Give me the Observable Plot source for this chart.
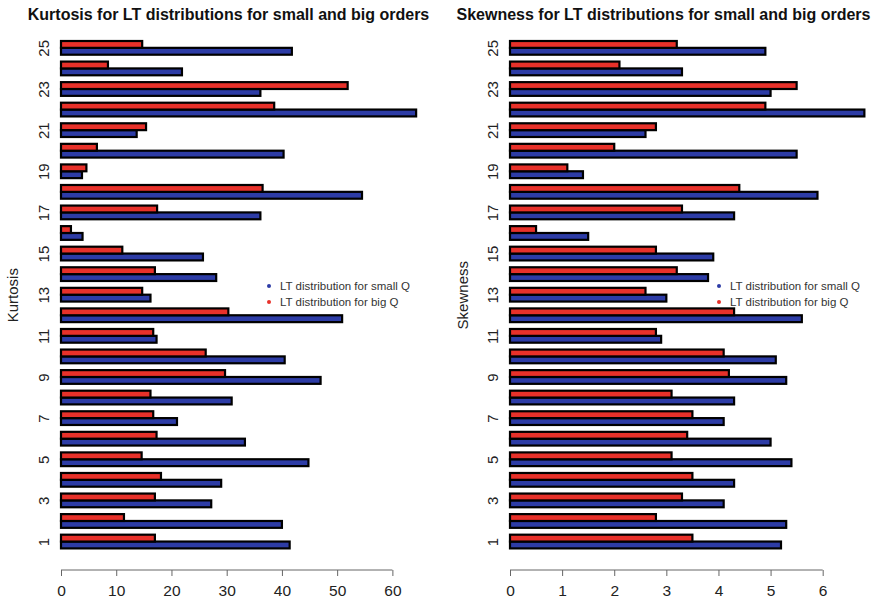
<!DOCTYPE html>
<html><head><meta charset="utf-8">
<script src="https://cdn.jsdelivr.net/npm/d3@7"></script>
<script src="https://cdn.jsdelivr.net/npm/@observablehq/plot@0.6"></script>
<style>
body{margin:0;background:#fff;font-family:"Liberation Sans",Arial,sans-serif;}
#wrap{position:relative;width:877px;height:602px;overflow:hidden;background:#fff;}
.panel{position:absolute;top:0;}
.title{position:absolute;top:5px;font-weight:bold;font-size:16px;line-height:20px;white-space:nowrap;transform:translateX(-50%);color:#111;}
.leg{position:absolute;font-size:11.5px;line-height:14px;white-space:nowrap;color:#333;transform:translateY(-50%);}
.dot{position:absolute;width:4px;height:4px;border-radius:50%;transform:translate(-50%,-50%);}
</style></head><body><div id="wrap"></div>
<script>
const categories = ["1","2","3","4","5","6","7","8","9","10","11","12","13","14","15","16","17","18","19","20","21","22","23","24","25"];
const shownLabels = ["1","3","5","7","9","11","13","15","17","19","21","23","25"];
const kurtSmall = [41.4, 40.0, 27.2, 29.0, 44.8, 33.3, 21.0, 30.9, 47.0, 40.5, 17.3, 50.9, 16.2, 28.1, 25.7, 3.9, 36.1, 54.5, 3.8, 40.3, 13.7, 64.3, 36.1, 21.9, 41.8];
const kurtBig   = [17.0, 11.4, 17.0, 18.1, 14.6, 17.3, 16.7, 16.2, 29.7, 26.2, 16.7, 30.3, 14.7, 17.0, 11.1, 1.8, 17.4, 36.5, 4.6, 6.5, 15.4, 38.6, 51.9, 8.5, 14.7];
const skewSmall = [5.2, 5.3, 4.1, 4.3, 5.4, 5.0, 4.1, 4.3, 5.3, 5.1, 2.9, 5.6, 3.0, 3.8, 3.9, 1.5, 4.3, 5.9, 1.4, 5.5, 2.6, 6.8, 5.0, 3.3, 4.9];
const skewBig   = [3.5, 2.8, 3.3, 3.5, 3.1, 3.4, 3.5, 3.1, 4.2, 4.1, 2.8, 4.3, 2.6, 3.2, 2.8, 0.5, 3.3, 4.4, 1.1, 2.0, 2.8, 4.9, 5.5, 2.1, 3.2];
const kurtTicks = [0, 10, 20, 30, 40, 50, 60];
const skewTicks = [0, 1, 2, 3, 4, 5, 6];
const seriesKeys = ["small", "big"];
const seriesNames = ["LT distribution for small Q", "LT distribution for big Q"];
const seriesColors = ["#2d3ca6", "#e8312a"];
const titles = ["Kurtosis for LT distributions for small and big orders", "Skewness for LT distributions for small and big orders"];
const yLabels = ["Kurtosis", "Skewness"];

const wrap = document.getElementById("wrap");

function panel({left, width, marginLeft, marginRight, xmax, small, big, ticks, title, ylabel, labelOffset, titleX, legX}) {
  const rows = categories.flatMap((c, i) => [
    {cat: c, s: "small", v: small[i]},
    {cat: c, s: "big", v: big[i]}
  ]);
  const axisDy = 21.6;
  const font = "'Liberation Sans', Arial, sans-serif";
  const plot = Plot.plot({
    width, height: 602,
    marginLeft, marginRight, marginTop: 41, marginBottom: 53.6,
    style: {fontFamily: font, fontSize: "15px", color: "#222", background: "transparent"},
    x: {domain: [0, xmax]},
    y: {domain: ["big", "small"], padding: 0, round: false, axis: null},
    fy: {domain: categories.slice().reverse(), paddingInner: 1/3, paddingOuter: 0, round: false},
    color: {domain: seriesKeys, range: seriesColors},
    marks: [
      Plot.barX(rows, {x: "v", y: "s", fy: "cat", fill: "s", stroke: "#000", strokeWidth: 2.2}),
      Plot.axisX({ticks, tickFormat: d => String(d), tickSize: 6, tickPadding: 8.5, dy: axisDy, stroke: "#666", fill: "#222", fontSize: 15.5, label: null, anchor: "bottom"}),
      Plot.axisFy({ticks: shownLabels, tickSize: 0, tickPadding: 12.5, tickRotate: -90, fontSize: 15, label: ylabel, labelAnchor: "center", labelOffset, anchor: "left", fill: "#222"})
    ]
  });
  const sx = plot.scale("x"), sfy = plot.scale("fy");
  const yAxis = sfy.apply(categories[0]) + sfy.bandwidth + axisDy;
  d3.select(plot).append("line")
    .attr("x1", sx.apply(ticks[0])).attr("x2", sx.apply(ticks[ticks.length - 1]))
    .attr("y1", yAxis).attr("y2", yAxis)
    .attr("stroke", "#666").attr("stroke-width", 1);
  const div = document.createElement("div");
  div.className = "panel";
  div.style.left = left + "px";
  div.style.width = width + "px";
  div.style.height = "602px";
  div.appendChild(plot);
  const t = document.createElement("div");
  t.className = "title";
  t.textContent = title;
  t.style.left = titleX + "px";
  div.appendChild(t);
  seriesNames.forEach((name, i) => {
    const yy = 285.7 + i * 16.6;
    const d = document.createElement("div");
    d.className = "dot";
    d.style.left = legX + "px";
    d.style.top = yy + "px";
    d.style.background = seriesColors[i];
    div.appendChild(d);
    const l = document.createElement("div");
    l.className = "leg";
    l.style.left = (legX + 10.7) + "px";
    l.style.top = yy + "px";
    l.textContent = name;
    div.appendChild(l);
  });
  wrap.appendChild(div);
}

panel({left: 0, width: 438, marginLeft: 61, marginRight: 18, xmax: 65, small: kurtSmall, big: kurtBig, ticks: kurtTicks, title: titles[0], ylabel: yLabels[0], labelOffset: 54, titleX: 228.5, legX: 269.3});
panel({left: 438, width: 439, marginLeft: 72, marginRight: 2.2, xmax: 7, small: skewSmall, big: skewBig, ticks: skewTicks, title: titles[1], ylabel: yLabels[1], labelOffset: 53, titleX: 225.5, legX: 281.3});
</script></body></html>
